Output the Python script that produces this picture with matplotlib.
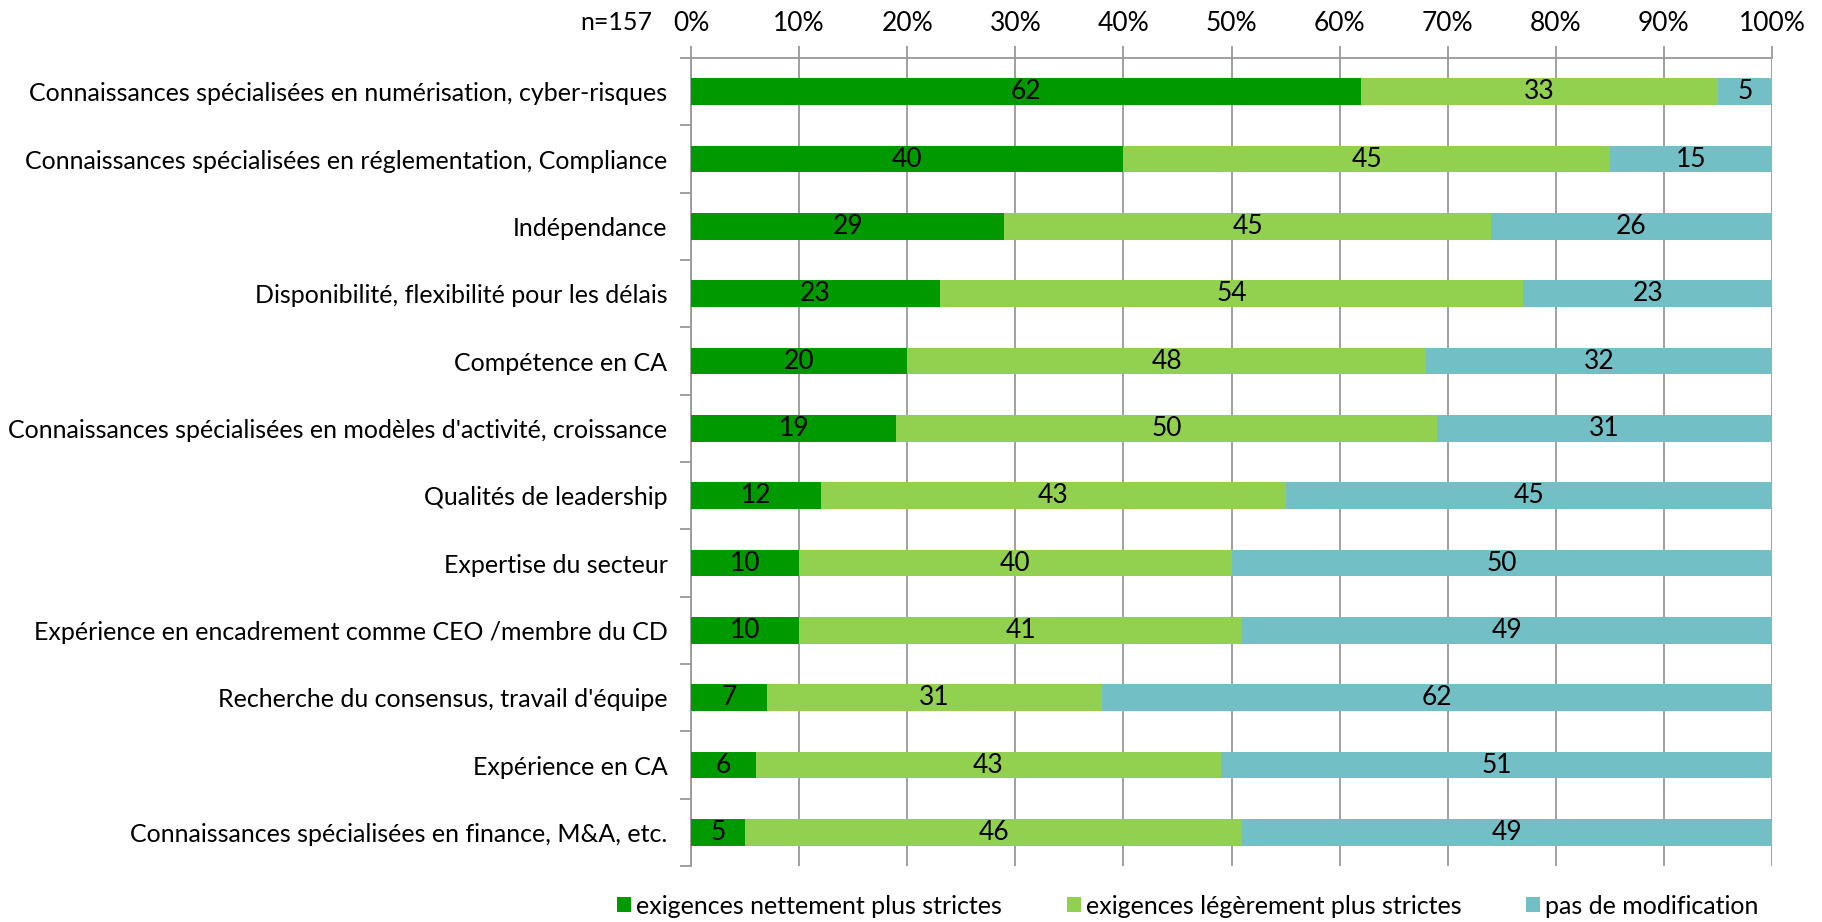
import matplotlib
matplotlib.use("Agg")
import matplotlib.pyplot as plt
import numpy as np

categories = [
    "Connaissances spécialisées en numérisation, cyber-risques",
    "Connaissances spécialisées en réglementation, Compliance",
    "Indépendance",
    "Disponibilité, flexibilité pour les délais",
    "Compétence en CA",
    "Connaissances spécialisées en modèles d'activité, croissance",
    "Qualités de leadership",
    "Expertise du secteur",
    "Expérience en encadrement comme CEO /membre du CD",
    "Recherche du consensus, travail d'équipe",
    "Expérience en CA",
    "Connaissances spécialisées en finance, M&A, etc.",
]
nettement = [62, 40, 29, 23, 20, 19, 12, 10, 10, 7, 6, 5]
legerement = [33, 45, 45, 54, 48, 50, 43, 40, 41, 31, 43, 46]
pas_modif = [5, 15, 26, 23, 32, 31, 45, 50, 49, 62, 51, 49]
series_names = ["exigences nettement plus strictes",
                "exigences légèrement plus strictes",
                "pas de modification"]
colors = ["#009900", "#92D050", "#72BFC5"]
x_ticks = list(range(0, 101, 10))

plt.rcParams["font.family"] = ["Lato", "DejaVu Sans"]
FS = 18

fig = plt.figure(figsize=(18.22, 9.22), dpi=100)
ax = fig.add_axes([691 / 1822, 1 - 866 / 922, (1772 - 691) / 1822, (866 - 58) / 922])

y = np.arange(len(categories))
left = np.zeros(len(categories))
for vals, name, c in zip([nettement, legerement, pas_modif], series_names, colors):
    vals = np.array(vals, dtype=float)
    ax.barh(y, vals, left=left, height=0.4, color=c, label=name, zorder=3)
    for yi, l, v in zip(y, left, vals):
        ax.text(l + v / 2, yi, "%d" % v, ha="center", va="center", fontsize=19, zorder=4)
    left += vals

ax.set_xlim(0, 100)
ax.set_ylim(len(categories) - 0.5, -0.5)
ax.xaxis.tick_top()
ax.set_xticks(x_ticks)
ax.set_xticklabels(["%d%%" % t for t in x_ticks], fontsize=19)
ax.tick_params(axis="x", length=9, color="#999999", width=1.3, pad=7)
ax.set_yticks(y)
ax.set_yticklabels(categories, fontsize=FS)
ax.tick_params(axis="y", length=0, pad=17)
ax.set_yticks(np.arange(-0.5, len(categories), 1), minor=True)
ax.tick_params(axis="y", which="minor", length=8, color="#999999", width=1.3)
ax.grid(True, axis="x", color="#999999", linewidth=1.3, zorder=0)
for s in ["right", "bottom"]:
    ax.spines[s].set_visible(False)
for s in ["top", "left"]:
    ax.spines[s].set_color("#999999")
    ax.spines[s].set_linewidth(1.3)

fig.text(652 / 1822, 1 - 22 / 922, "n=157", ha="right", va="center", fontsize=FS)

fig.legend(loc="center", bbox_to_anchor=(0.652, 1 - 906 / 922), ncol=3, frameon=False,
           fontsize=FS, handlelength=0.55, handleheight=0.55, columnspacing=2.6,
           handletextpad=0.2)

fig.savefig("out.png", dpi=100)
